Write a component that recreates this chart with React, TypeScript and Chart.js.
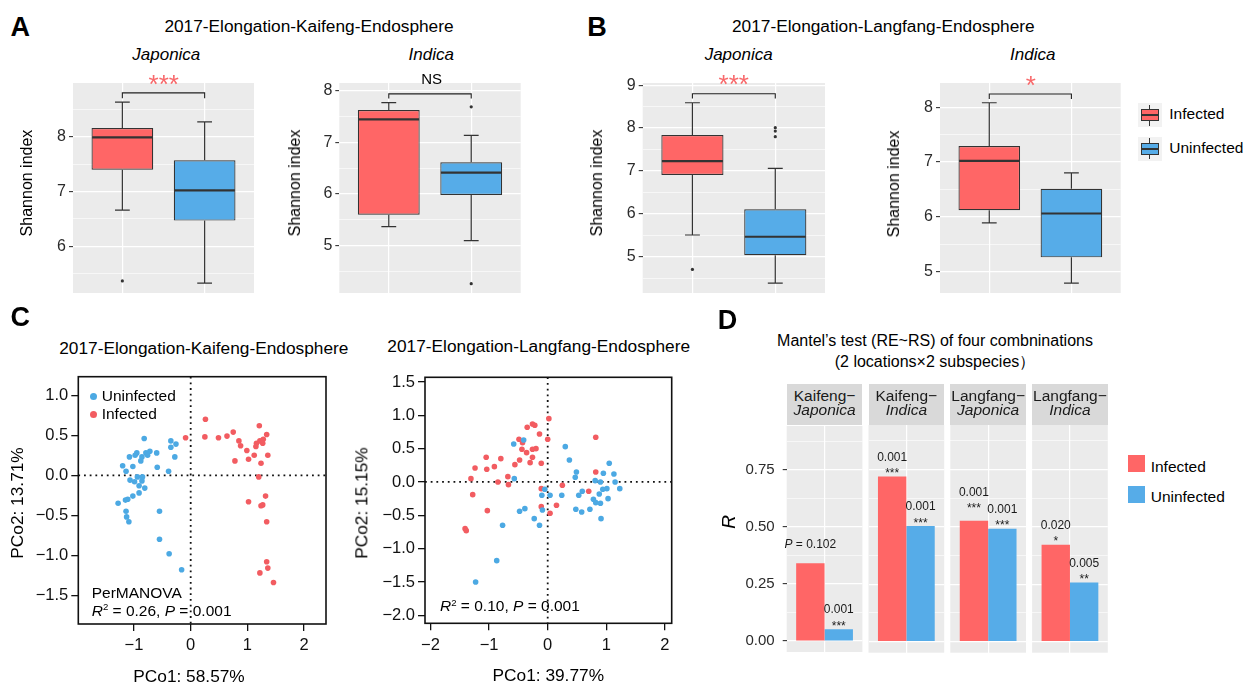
import React, { useEffect, useRef } from 'react';
import { Chart, registerables } from 'chart.js';

Chart.register(...registerables);

const FONT = '"Liberation Sans", Arial, Helvetica, sans-serif';
const RED = '#FF6666';
const BLUE = '#56ACE8';
const PT_RED = '#F25C61';
const PT_BLUE = '#4CA9E3';
const INK = '#333333';
const PANEL = '#EBEBEB';

// ---------- data ----------
const groups = ['Infected', 'Uninfected'];

// boxplot stats: [lower whisker, Q1, median, Q3, upper whisker]
const kfJaponicaInfected = [6.66, 7.40, 7.99, 8.16, 8.63];
const kfJaponicaUninfected = [5.33, 6.47, 7.02, 7.57, 8.27];
const kfJaponicaOutInfected = [5.37];
const kfJaponicaOutUninfected: number[] = [];
const kfIndicaInfected = [5.37, 5.60, 7.44, 7.62, 7.76];
const kfIndicaUninfected = [5.10, 5.98, 6.41, 6.61, 7.13];
const kfIndicaOutInfected: number[] = [];
const kfIndicaOutUninfected = [7.68, 4.27];
const lfJaponicaInfected = [5.51, 6.91, 7.23, 7.84, 8.59];
const lfJaponicaUninfected = [4.39, 5.04, 5.47, 6.11, 7.06];
const lfJaponicaOutInfected = [4.71];
const lfJaponicaOutUninfected = [7.80, 7.93, 8.01];
const lfIndicaInfected = [5.89, 6.12, 7.02, 7.29, 8.08];
const lfIndicaUninfected = [4.79, 5.26, 6.06, 6.51, 6.80];
const lfIndicaOutInfected: number[] = [];
const lfIndicaOutUninfected: number[] = [];

const kfJaponicaTicks = [6, 7, 8];
const kfIndicaTicks = [5, 6, 7, 8];
const lfJaponicaTicks = [5, 6, 7, 8, 9];
const lfIndicaTicks = [5, 6, 7, 8];

// significance brackets: [bar level, tick end]
const kfJaponicaBracket = [8.80, 8.70];
const kfIndicaBracket = [7.93, 7.84];
const lfJaponicaBracket = [8.80, 8.69];
const lfIndicaBracket = [8.24, 8.15];
const sigLabels = ['***', 'NS', '***', '*'];

// PCoA points [PCo1, PCo2]
const kaifengUninfected: number[][] = [
  [-0.82, 0.46], [-0.35, 0.43], [-0.26, 0.39], [-0.35, 0.35], [-0.28, 0.23], [-0.39, 0.05], [-0.59, 0.10],
  [-0.60, 0.28], [-0.72, 0.30], [-0.79, 0.28], [-0.76, 0.25], [-0.86, 0.23], [-0.95, 0.28], [-0.98, 0.25],
  [-1.08, 0.23], [-1.02, 0.11], [-0.88, 0.18], [-1.20, 0.12], [-1.14, 0.05], [-1.07, -0.06], [-0.94, -0.02],
  [-0.86, -0.07], [-0.91, -0.13], [-0.85, -0.02], [-0.81, -0.16], [-0.91, -0.22], [-1.02, -0.26], [-1.11, -0.30],
  [-1.15, -0.31], [-1.28, -0.35], [-1.14, -0.45], [-1.13, -0.52], [-1.09, -0.58], [-0.55, -0.45], [-0.55, -0.80],
  [-0.38, -0.98], [-0.16, -1.18], [-0.99, -0.08],
];
const kaifengInfected: number[][] = [
  [-0.09, 0.47], [0.26, 0.70], [0.25, 0.48], [0.49, 0.47], [0.64, 0.49], [0.75, 0.54], [0.85, 0.43],
  [0.88, 0.37], [0.78, 0.18], [0.99, 0.31], [1.02, 0.20], [1.12, 0.25], [1.16, 0.40], [1.21, 0.62],
  [1.22, 0.43], [1.28, 0.45], [1.34, 0.51], [1.24, 0.15], [1.36, 0.25], [1.20, -0.02], [1.15, 0.36],
  [1.27, 0.40], [1.32, -0.26], [1.02, -0.33], [1.27, -0.37], [1.24, -0.38], [1.34, -0.58], [1.34, -1.08],
  [1.36, -1.16], [1.22, -1.22], [1.46, -1.34],
];
const langfangInfected: number[][] = [
  [0.02, 0.95], [0.82, 0.67], [-0.26, 0.87], [-0.22, 0.85], [-0.35, 0.82], [-0.14, 0.72], [0.00, 0.64],
  [-0.49, 0.64], [-0.43, 0.59], [-0.44, 0.49], [-0.36, 0.44], [-0.26, 0.49], [-0.20, 0.50], [-0.26, 0.37],
  [-0.30, 0.29], [-0.48, 0.33], [-0.56, 0.26], [-0.11, 0.28], [-0.80, 0.35], [-0.91, 0.23], [-1.05, 0.37],
  [-1.04, 0.19], [-1.24, 0.21], [-1.31, 0.05], [-0.85, 0.00], [-0.68, 0.08], [-0.67, -0.04], [-1.28, -0.19],
  [-1.03, -0.43], [-1.41, -0.70], [-1.39, -0.73], [-0.11, -0.10], [-0.11, -0.37], [0.04, -0.47], [0.15, -0.35],
  [0.25, -0.05], [0.70, -0.14], [0.82, 0.15],
];
const langfangUninfected: number[][] = [
  [-0.41, 0.63], [-0.58, 0.57], [-0.57, 0.05], [0.30, 0.53], [0.37, 0.33], [0.49, 0.15], [0.47, 0.07],
  [1.05, 0.28], [0.95, 0.13], [1.13, 0.12], [1.15, 0.00], [1.23, -0.10], [1.03, -0.25], [0.90, 0.00],
  [0.81, 0.02], [1.01, -0.10], [0.94, -0.11], [0.88, -0.18], [0.78, -0.26], [0.82, -0.31], [0.90, -0.32],
  [0.72, -0.41], [0.91, -0.55], [0.59, -0.14], [0.53, -0.20], [0.48, -0.41], [0.58, -0.45], [0.24, -0.20],
  [0.04, -0.20], [-0.05, -0.11], [-0.10, -0.20], [-0.09, -0.42], [-0.23, -0.55], [-0.14, -0.65], [-0.39, -0.40],
  [-0.48, -0.44], [-0.77, -0.65], [-0.87, -1.18], [-1.23, -1.50],
];
const kaifengXTicks = [-1, 0, 1, 2];
const kaifengYTicks = [-1.5, -1, -0.5, 0, 0.5, 1];
const langfangXTicks = [-2, -1, 0, 1, 2];
const langfangYTicks = [-2, -1.5, -1, -0.5, 0, 0.5, 1, 1.5];

// Mantel's test
const facetPlace = ['Kaifeng−', 'Kaifeng−', 'Langfang−', 'Langfang−'];
const facetSub = ['Japonica', 'Indica', 'Japonica', 'Indica'];
const mantelInfected = [0.341, 0.719, 0.526, 0.422];
const mantelUninfected = [0.052, 0.503, 0.492, 0.257];
const pInfected = ['0.102', '0.001', '0.001', '0.020'];
const pUninfected = ['0.001', '0.001', '0.001', '0.005'];
const starsInfected = ['', '***', '***', '*'];
const starsUninfected = ['***', '***', '***', '**'];
const mantelTicks = [0, 0.25, 0.5, 0.75];

// ---------- helpers ----------
type Rect = { l: number; t: number; r: number; b: number };

function place(rc: Rect, yw: number, xh: number, mx = 6, my = 16) {
  const cl = Math.floor(rc.l - yw - mx);
  const ct = Math.floor(rc.t - my);
  const cr = Math.ceil(rc.r + mx);
  const cb = Math.ceil(rc.b + xh + my);
  return {
    left: cl,
    top: ct,
    width: cr - cl,
    height: cb - ct,
    padding: { left: rc.l - yw - cl, top: rc.t - ct, right: cr - rc.r, bottom: cb - rc.b - xh },
  };
}

// major ticks plus ggplot-style minor ticks half-way between them
function withMinor(major: number[], min: number, max: number) {
  const half = (major[1] - major[0]) / 2;
  const out: number[] = [];
  for (let k = -20; k <= 40; k++) {
    const v = Math.round((major[0] + k * half) * 1000) / 1000;
    if (v >= min - 1e-9 && v <= max + 1e-9) out.push(v);
  }
  return out;
}

const near = (arr: number[], v: number) => arr.some((m) => Math.abs(m - v) < 1e-6);

function ChartCanvas({ g, build }: { g: any; build: (pad: any) => any }) {
  const ref = useRef<HTMLCanvasElement>(null);
  useEffect(() => {
    const chart = new Chart(ref.current as HTMLCanvasElement, build(g.padding));
    return () => chart.destroy();
  }, []);
  return (
    <canvas
      ref={ref}
      width={g.width}
      height={g.height}
      style={{ position: 'absolute', left: g.left, top: g.top, width: g.width, height: g.height }}
    />
  );
}

function Txt({ x, y, s, c = '#000', a = 'c', rot = false, it = false, b = false, children }: any) {
  const tx = a === 'c' ? '-50%' : a === 'r' ? '-100%' : '0';
  return (
    <div
      style={{
        position: 'absolute',
        left: x,
        top: y,
        transform: `translate(${tx}, -50%)` + (rot ? ' rotate(-90deg)' : ''),
        fontSize: s,
        lineHeight: 1,
        color: c,
        fontStyle: it ? 'italic' : 'normal',
        fontWeight: b ? 700 : 400,
        whiteSpace: 'nowrap',
        fontFamily: FONT,
      }}
    >
      {children}
    </div>
  );
}

const panelBg = {
  id: 'panelBg',
  beforeDraw(chart: any) {
    const { ctx, chartArea: a } = chart;
    ctx.save();
    ctx.fillStyle = PANEL;
    ctx.fillRect(a.left, a.top, a.right - a.left, a.bottom - a.top);
    ctx.restore();
  },
};

// ---------- boxplot ----------
function BoxPanel({ rect, min, max, major, stats, outliers, bracket }: any) {
  const g = place(rect, 40, 0);
  const ticks = withMinor(major, min, max);
  const build = (pad: any) => {
    const extras = {
      id: 'boxExtras',
      afterDatasetsDraw(chart: any) {
        const { ctx, scales } = chart;
        const x = scales.x;
        const y = scales.y;
        const meta = chart.getDatasetMeta(0);
        const py = (v: number) => y.getPixelForValue(v);
        ctx.save();
        ctx.strokeStyle = INK;
        ctx.fillStyle = INK;
        stats.forEach((s: number[], i: number) => {
          const el: any = meta.data[i];
          const cx = x.getPixelForValue(i);
          const w = el.width;
          const cap = x.getPixelForValue(0.09) - x.getPixelForValue(0);
          const [lo, q1, med, q3, hi] = s;
          ctx.lineWidth = 1.2;
          ctx.beginPath();
          ctx.moveTo(cx, py(q3));
          ctx.lineTo(cx, py(hi));
          ctx.moveTo(cx, py(q1));
          ctx.lineTo(cx, py(lo));
          ctx.moveTo(cx - cap, py(hi));
          ctx.lineTo(cx + cap, py(hi));
          ctx.moveTo(cx - cap, py(lo));
          ctx.lineTo(cx + cap, py(lo));
          ctx.stroke();
          ctx.lineWidth = 2.2;
          ctx.beginPath();
          ctx.moveTo(cx - w / 2 + 0.6, py(med));
          ctx.lineTo(cx + w / 2 - 0.6, py(med));
          ctx.stroke();
          outliers[i].forEach((v: number) => {
            ctx.beginPath();
            ctx.arc(cx, py(v), 1.6, 0, Math.PI * 2);
            ctx.fill();
          });
        });
        const x0 = x.getPixelForValue(0);
        const x1 = x.getPixelForValue(1);
        ctx.strokeStyle = '#222';
        ctx.lineWidth = 1.1;
        ctx.beginPath();
        ctx.moveTo(x0, py(bracket[1]));
        ctx.lineTo(x0, py(bracket[0]));
        ctx.lineTo(x1, py(bracket[0]));
        ctx.lineTo(x1, py(bracket[1]));
        ctx.stroke();
        ctx.restore();
      },
    };
    return {
      type: 'bar',
      data: {
        datasets: [
          {
            label: 'box',
            data: stats.map((s: number[], i: number) => ({ x: i, y: [s[1], s[3]] })),
            backgroundColor: [RED, BLUE],
            borderColor: INK,
            borderWidth: 1.2,
            borderSkipped: false,
            categoryPercentage: 1,
            barPercentage: 0.75,
          },
        ],
      },
      options: {
        responsive: false,
        animation: false,
        layout: { padding: pad },
        plugins: { legend: { display: false }, tooltip: { enabled: false } },
        scales: {
          x: {
            type: 'linear',
            min: -0.6,
            max: 1.6,
            offset: false,
            afterBuildTicks: (s: any) => {
              s.ticks = [{ value: 0 }, { value: 1 }];
            },
            afterFit: (s: any) => {
              s.height = 0;
            },
            grid: { offset: false, color: '#fff', lineWidth: 1.2, drawTicks: false },
            border: { display: false },
            ticks: { display: false },
          },
          y: {
            min,
            max,
            afterBuildTicks: (s: any) => {
              s.ticks = ticks.map((v) => ({ value: v }));
            },
            afterFit: (s: any) => {
              s.width = 40;
            },
            grid: {
              color: '#fff',
              lineWidth: (c: any) => (c.tick && near(major, c.tick.value) ? 1.2 : 0.6),
              tickColor: (c: any) => (c.tick && near(major, c.tick.value) ? INK : 'rgba(0,0,0,0)'),
              tickWidth: 1.1,
              tickLength: 4,
            },
            border: { display: false },
            ticks: {
              autoSkip: false,
              color: '#2B2B2B',
              padding: 3,
              font: { family: FONT, size: 16 },
              callback: (v: number) => (near(major, v) ? String(v) : ''),
            },
          },
        },
      },
      plugins: [panelBg, extras],
    };
  };
  return <ChartCanvas g={g} build={build} />;
}

// ---------- scatter (PCoA) ----------
const fmt = (v: number, d: number) => v.toFixed(d).replace('-', '−');

function ScatterPanel({ rect, xr, yr, xt, yt, blue, red }: any) {
  const yw = 50;
  const xh = 41;
  const g = place(rect, yw, xh, 20, 16);
  const build = (pad: any) => {
    const deco = {
      id: 'deco',
      beforeDatasetsDraw(chart: any) {
        const { ctx, chartArea: a, scales } = chart;
        const x0 = scales.x.getPixelForValue(0);
        const y0 = scales.y.getPixelForValue(0);
        ctx.save();
        ctx.strokeStyle = '#111';
        ctx.lineWidth = 1.8;
        ctx.setLineDash([1.8, 3.9]);
        ctx.beginPath();
        ctx.moveTo(x0, a.top);
        ctx.lineTo(x0, a.bottom);
        ctx.moveTo(a.left, y0);
        ctx.lineTo(a.right, y0);
        ctx.stroke();
        ctx.restore();
      },
      afterDraw(chart: any) {
        const { ctx, chartArea: a } = chart;
        ctx.save();
        ctx.strokeStyle = '#111';
        ctx.lineWidth = 1.6;
        ctx.strokeRect(a.left, a.top, a.right - a.left, a.bottom - a.top);
        ctx.restore();
      },
    };
    const axisCommon = {
      type: 'linear',
      grid: { drawOnChartArea: false, drawTicks: true, tickLength: 7, color: '#111', lineWidth: 1.3 },
      border: { display: false },
    };
    return {
      type: 'scatter',
      data: {
        datasets: [
          {
            label: groups[1],
            data: blue.map((p: number[]) => ({ x: p[0], y: p[1] })),
            backgroundColor: PT_BLUE,
            pointRadius: 2.8,
            borderWidth: 0,
          },
          {
            label: groups[0],
            data: red.map((p: number[]) => ({ x: p[0], y: p[1] })),
            backgroundColor: PT_RED,
            pointRadius: 2.8,
            borderWidth: 0,
          },
        ],
      },
      options: {
        responsive: false,
        animation: false,
        layout: { padding: pad },
        plugins: { legend: { display: false }, tooltip: { enabled: false } },
        scales: {
          x: {
            ...axisCommon,
            position: 'bottom',
            min: xr[0],
            max: xr[1],
            afterBuildTicks: (s: any) => {
              s.ticks = xt.map((v: number) => ({ value: v }));
            },
            afterFit: (s: any) => {
              s.height = xh;
            },
            ticks: {
              autoSkip: false,
              maxRotation: 0,
              color: '#111',
              padding: 5,
              font: { family: FONT, size: 16.5 },
              callback: (v: number) => fmt(v, 0),
            },
          },
          y: {
            ...axisCommon,
            position: 'left',
            min: yr[0],
            max: yr[1],
            afterBuildTicks: (s: any) => {
              s.ticks = yt.map((v: number) => ({ value: v }));
            },
            afterFit: (s: any) => {
              s.width = yw;
            },
            ticks: {
              autoSkip: false,
              color: '#111',
              padding: 3,
              font: { family: FONT, size: 16.5 },
              callback: (v: number) => fmt(v, 1),
            },
          },
        },
      },
      plugins: [deco],
    };
  };
  return <ChartCanvas g={g} build={build} />;
}

// ---------- Mantel facets ----------
const MIN_R = -0.048;
const MAX_R = 0.943;

function Facet({ rect, i }: any) {
  const showY = i === 0;
  const yw = showY ? 52 : 0;
  const g = place(rect, yw, 0, 6, 16);
  const ticks = withMinor(mantelTicks, MIN_R, MAX_R);
  const build = (pad: any) => {
    const labels = {
      id: 'barLabels',
      afterDatasetsDraw(chart: any) {
        const ctx = chart.ctx;
        ctx.save();
        ctx.fillStyle = '#1A1A1A';
        ctx.textBaseline = 'alphabetic';
        [0, 1].forEach((d) => {
          const el: any = chart.getDatasetMeta(d).data[0];
          const p = d === 0 ? pInfected[i] : pUninfected[i];
          const st = d === 0 ? starsInfected[i] : starsUninfected[i];
          const lift = d === 0 && Math.abs(mantelInfected[i] - mantelUninfected[i]) < 0.05 ? 9 : 0;
          const top = el.y - lift;
          ctx.font = `12px ${FONT}`;
          if (st) {
            ctx.textAlign = 'center';
            ctx.fillText(st, el.x, top + 0.5);
            ctx.fillText(p, el.x, top - 15.7);
          } else {
            const rest = ' = ' + p;
            ctx.font = `italic 12px ${FONT}`;
            const wP = ctx.measureText('P').width;
            ctx.font = `12px ${FONT}`;
            const wR = ctx.measureText(rest).width;
            const x0 = el.x - (wP + wR) / 2;
            ctx.textAlign = 'left';
            ctx.font = `italic 12px ${FONT}`;
            ctx.fillText('P', x0, top - 15);
            ctx.font = `12px ${FONT}`;
            ctx.fillText(rest, x0 + wP, top - 15);
          }
        });
        ctx.restore();
      },
    };
    return {
      type: 'bar',
      data: {
        labels: [facetPlace[i] + facetSub[i]],
        datasets: [
          { label: groups[0], data: [mantelInfected[i]], backgroundColor: RED },
          { label: groups[1], data: [mantelUninfected[i]], backgroundColor: BLUE },
        ],
      },
      options: {
        responsive: false,
        animation: false,
        layout: { padding: pad },
        datasets: { bar: { categoryPercentage: 0.75, barPercentage: 1 } },
        plugins: { legend: { display: false }, tooltip: { enabled: false } },
        scales: {
          x: {
            type: 'category',
            offset: true,
            afterFit: (s: any) => {
              s.height = 0;
            },
            grid: { offset: false, color: '#fff', lineWidth: 1.2, drawTicks: false },
            border: { display: false },
            ticks: { display: false },
          },
          y: {
            min: MIN_R,
            max: MAX_R,
            afterBuildTicks: (s: any) => {
              s.ticks = ticks.map((v) => ({ value: v }));
            },
            afterFit: (s: any) => {
              s.width = yw;
            },
            grid: {
              color: '#fff',
              lineWidth: (c: any) => (c.tick && near(mantelTicks, c.tick.value) ? 1.2 : 0.6),
              tickColor: (c: any) =>
                showY && c.tick && near(mantelTicks, c.tick.value) ? INK : 'rgba(0,0,0,0)',
              tickWidth: 1.1,
              tickLength: 4,
              drawTicks: showY,
            },
            border: { display: false },
            ticks: {
              display: showY,
              autoSkip: false,
              color: '#2B2B2B',
              padding: 8,
              font: { family: FONT, size: 15 },
              callback: (v: number) => (near(mantelTicks, v) ? v.toFixed(2) : ''),
            },
          },
        },
      },
      plugins: [panelBg, labels],
    };
  };
  return <ChartCanvas g={g} build={build} />;
}

function BoxKey({ x, y, fill }: any) {
  return (
    <div style={{ position: 'absolute', left: x, top: y, width: 24, height: 24, background: '#F2F2F2' }}>
      <div style={{ position: 'absolute', left: 11.5, top: 1.5, width: 1.2, height: 21, background: INK }} />
      <div
        style={{
          position: 'absolute',
          left: 3,
          top: 6,
          width: 18,
          height: 12,
          background: fill,
          border: `1.2px solid ${INK}`,
          boxSizing: 'border-box',
        }}
      />
      <div style={{ position: 'absolute', left: 3, top: 11, width: 18, height: 2, background: INK }} />
    </div>
  );
}

function Dot({ x, y, c }: any) {
  return (
    <div
      style={{
        position: 'absolute',
        left: x - 3.6,
        top: y - 3.6,
        width: 7.2,
        height: 7.2,
        borderRadius: '50%',
        background: c,
      }}
    />
  );
}

function Stat({ x, y, r2 }: any) {
  return (
    <Txt x={x} y={y} s={15.5} a="l">
      <i>R</i>
      <span style={{ fontSize: '0.62em', position: 'relative', top: '-0.55em' }}>2</span> = {r2}, <i>P</i> = 0.001
    </Txt>
  );
}

export default function App() {
  const facetRects = [0, 1, 2, 3].map((i) => ({ l: 786.7 + 81.8 * i, t: 425, r: 862.4 + 81.8 * i, b: 652.7 }));
  return (
    <div
      style={{
        position: 'absolute',
        left: 0,
        top: 0,
        width: 1255,
        height: 685,
        background: '#fff',
        overflow: 'hidden',
        fontFamily: FONT,
      }}
    >
      {/* ---- charts ---- */}
      <BoxPanel
        rect={{ l: 73, t: 83, r: 254, b: 293 }}
        min={5.15}
        max={8.98}
        major={kfJaponicaTicks}
        stats={[kfJaponicaInfected, kfJaponicaUninfected]}
        outliers={[kfJaponicaOutInfected, kfJaponicaOutUninfected]}
        bracket={kfJaponicaBracket}
      />
      <BoxPanel
        rect={{ l: 339.3, t: 83, r: 520.7, b: 293 }}
        min={4.09}
        max={8.14}
        major={kfIndicaTicks}
        stats={[kfIndicaInfected, kfIndicaUninfected]}
        outliers={[kfIndicaOutInfected, kfIndicaOutUninfected]}
        bracket={kfIndicaBracket}
      />
      <BoxPanel
        rect={{ l: 642.7, t: 83, r: 825, b: 293 }}
        min={4.16}
        max={9.05}
        major={lfJaponicaTicks}
        stats={[lfJaponicaInfected, lfJaponicaUninfected]}
        outliers={[lfJaponicaOutInfected, lfJaponicaOutUninfected]}
        bracket={lfJaponicaBracket}
      />
      <BoxPanel
        rect={{ l: 940, t: 83, r: 1120.7, b: 293 }}
        min={4.61}
        max={8.44}
        major={lfIndicaTicks}
        stats={[lfIndicaInfected, lfIndicaUninfected]}
        outliers={[lfIndicaOutInfected, lfIndicaOutUninfected]}
        bracket={lfIndicaBracket}
      />
      <ScatterPanel
        rect={{ l: 78.3, t: 376.7, r: 326, b: 624 }}
        xr={[-1.982, 2.386]}
        yr={[-1.859, 1.2325]}
        xt={kaifengXTicks}
        yt={kaifengYTicks}
        blue={kaifengUninfected}
        red={kaifengInfected}
      />
      <ScatterPanel
        rect={{ l: 425, t: 377.3, r: 671.7, b: 623.3 }}
        xr={[-2.094, 2.116]}
        yr={[-2.12, 1.57]}
        xt={langfangXTicks}
        yt={langfangYTicks}
        blue={langfangUninfected}
        red={langfangInfected}
      />
      {facetRects.map((rc, i) => (
        <React.Fragment key={i}>
          <div
            style={{
              position: 'absolute',
              left: rc.l,
              top: 384.3,
              width: rc.r - rc.l,
              height: 425 - 384.3,
              background: '#D9D9D9',
            }}
          />
          <Facet rect={rc} i={i} />
        </React.Fragment>
      ))}

      {/* ---- A text ---- */}
      <Txt x={20.3} y={26.5} s={27} b>A</Txt>
      <Txt x={309} y={27} s={17.3}>2017-Elongation-Kaifeng-Endosphere</Txt>
      <Txt x={166.3} y={54} s={17} it>Japonica</Txt>
      <Txt x={431.3} y={54} s={17} it>Indica</Txt>
      <Txt x={163.7} y={83.5} s={26} c="#F8696B">{sigLabels[0]}</Txt>
      <Txt x={431.7} y={78} s={15}>{sigLabels[1]}</Txt>
      <Txt x={27} y={183.3} s={16} rot>Shannon index</Txt>
      <Txt x={295} y={183.3} s={16} rot>Shannon index</Txt>

      {/* ---- B text ---- */}
      <Txt x={597} y={26.5} s={27} b>B</Txt>
      <Txt x={883.3} y={27} s={17.3}>2017-Elongation-Langfang-Endosphere</Txt>
      <Txt x={738.7} y={54} s={17} it>Japonica</Txt>
      <Txt x={1032.7} y={54} s={17} it>Indica</Txt>
      <Txt x={733.7} y={83.5} s={26} c="#F8696B">{sigLabels[2]}</Txt>
      <Txt x={1030.8} y={85} s={26} c="#F8696B">{sigLabels[3]}</Txt>
      <Txt x={597} y={183} s={16} rot>Shannon index</Txt>
      <Txt x={894} y={183.7} s={16} rot>Shannon index</Txt>
      <BoxKey x={1137.7} y={103.3} fill={RED} />
      <BoxKey x={1137.7} y={136.7} fill={BLUE} />
      <Txt x={1169.3} y={114.3} s={15.5} a="l">{groups[0]}</Txt>
      <Txt x={1169.3} y={147.7} s={15.5} a="l">{groups[1]}</Txt>

      {/* ---- C text ---- */}
      <Txt x={20.3} y={317} s={27} b>C</Txt>
      <Txt x={203.8} y={349} s={17.3}>2017-Elongation-Kaifeng-Endosphere</Txt>
      <Txt x={538.7} y={347} s={17.3}>2017-Elongation-Langfang-Endosphere</Txt>
      <Dot x={93.3} y={396.3} c={PT_BLUE} />
      <Dot x={93.3} y={414.3} c={PT_RED} />
      <Txt x={101.7} y={396} s={15.5} a="l">{groups[1]}</Txt>
      <Txt x={101.7} y={414.3} s={15.5} a="l">{groups[0]}</Txt>
      <Txt x={91.7} y={592.7} s={15.5} a="l">PerMANOVA</Txt>
      <Stat x={91.7} y={610.7} r2="0.26" />
      <Stat x={440} y={606} r2="0.10" />
      <Txt x={17.5} y={503} s={17.3} rot>PCo2: 13.71%</Txt>
      <Txt x={362.3} y={503} s={17.3} rot>PCo2: 15.15%</Txt>
      <Txt x={189} y={677} s={17.3}>PCo1: 58.57%</Txt>
      <Txt x={548.3} y={676} s={17.3}>PCo1: 39.77%</Txt>

      {/* ---- D text ---- */}
      <Txt x={727.5} y={319.7} s={27} b>D</Txt>
      <Txt x={935} y={340.7} s={16}>Mantel’s test (RE~RS) of four combninations</Txt>
      <Txt x={935} y={361.7} s={16}>(2 locations×2 subspecies）</Txt>
      <Txt x={728.3} y={522} s={19} it rot>R</Txt>
      {facetRects.map((rc, i) => (
        <React.Fragment key={'s' + i}>
          <Txt x={(rc.l + rc.r) / 2} y={396} s={15.5} c="#1A1A1A">{facetPlace[i]}</Txt>
          <Txt x={(rc.l + rc.r) / 2} y={410} s={15.5} c="#1A1A1A" it>{facetSub[i]}</Txt>
        </React.Fragment>
      ))}
      <div style={{ position: 'absolute', left: 1127.5, top: 455.3, width: 17, height: 17, background: RED }} />
      <div style={{ position: 'absolute', left: 1127.5, top: 485.8, width: 17, height: 17, background: BLUE }} />
      <Txt x={1150.7} y={466.5} s={15.5} a="l">{groups[0]}</Txt>
      <Txt x={1150.7} y={497.3} s={15.5} a="l">{groups[1]}</Txt>
    </div>
  );
}
